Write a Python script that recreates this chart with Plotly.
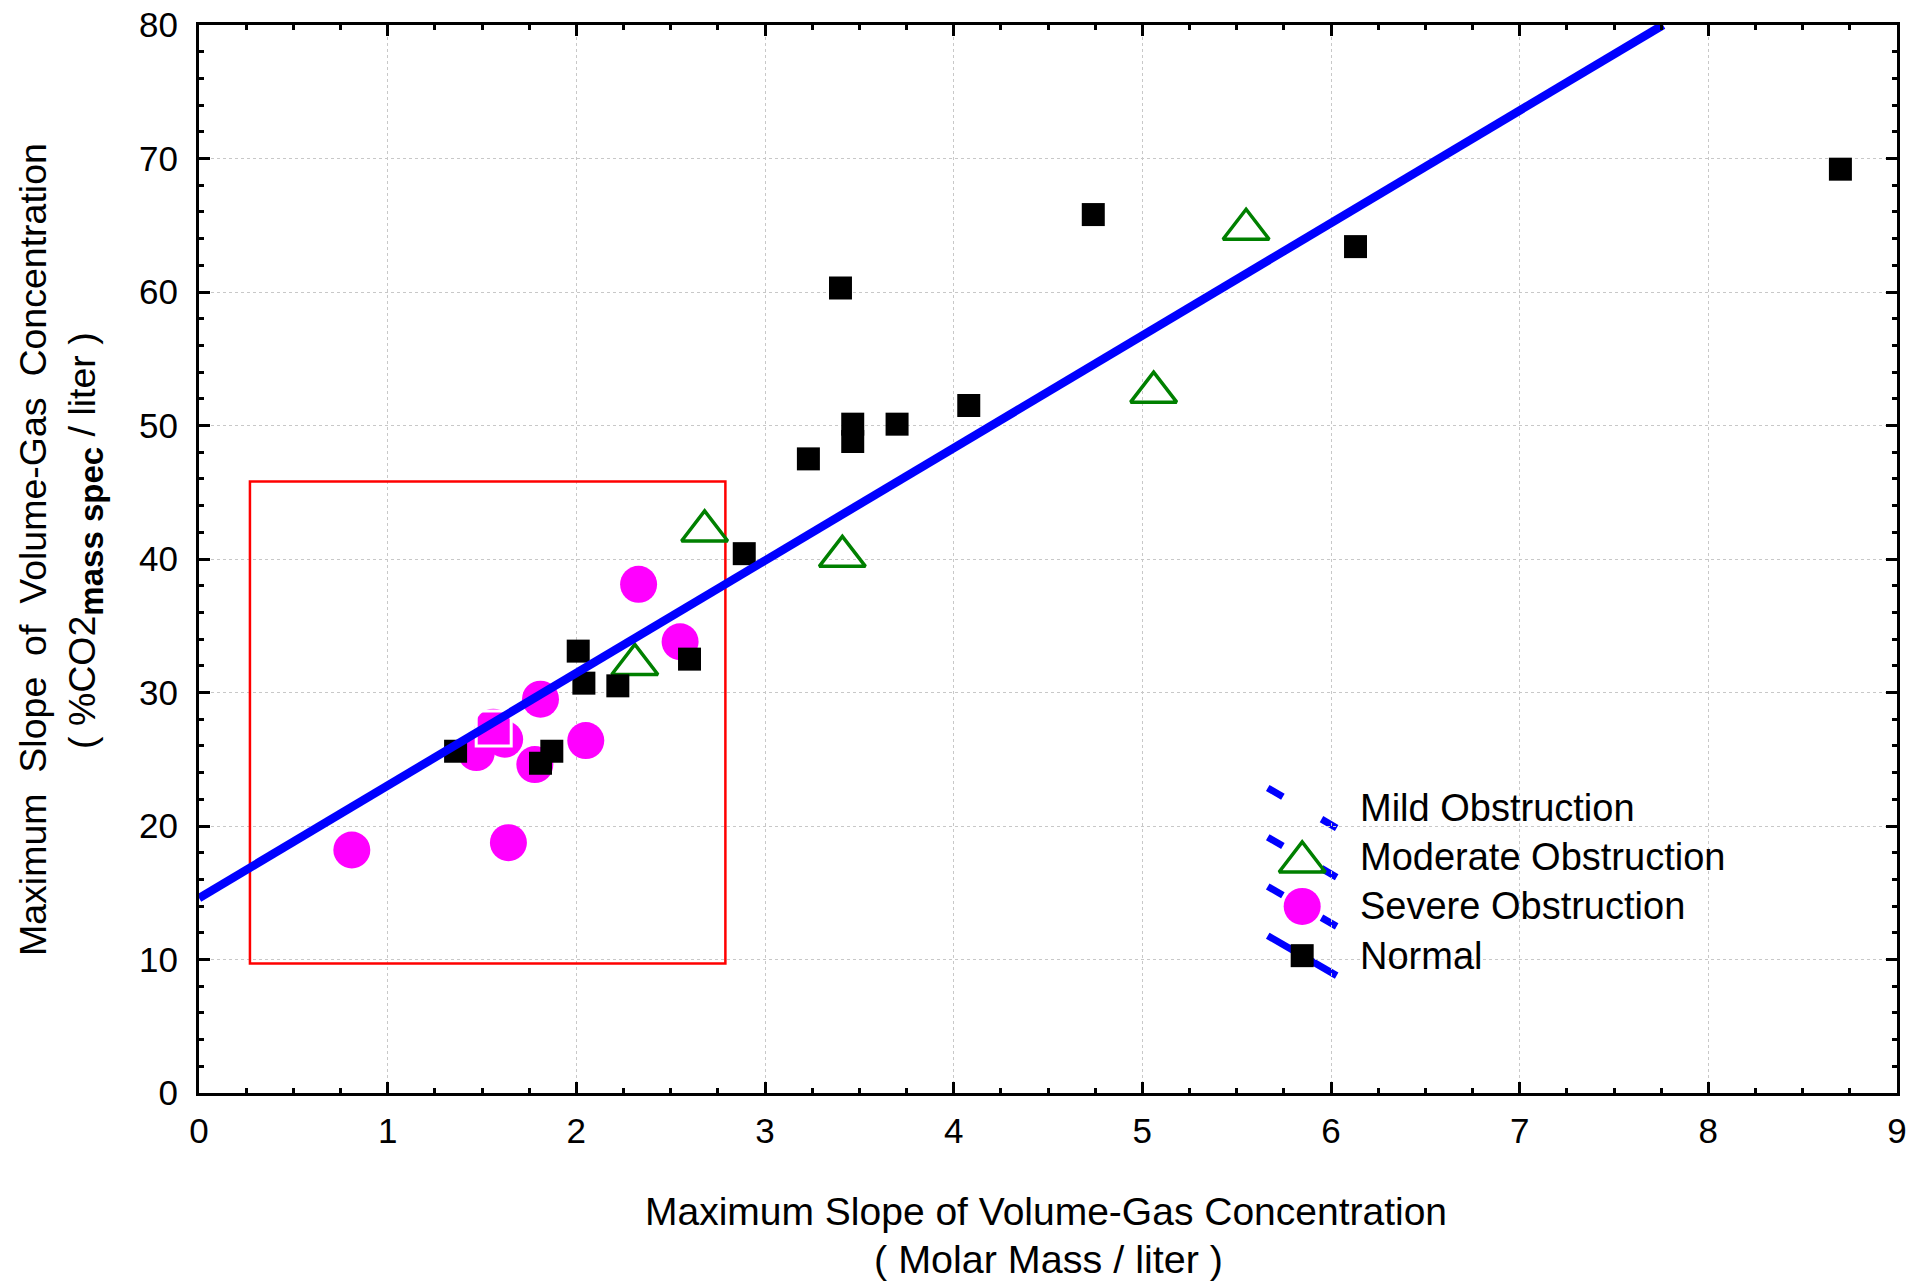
import plotly.graph_objects as go

# ---- data -------------------------------------------------------------
normal_x = [1.36, 1.81, 1.87, 2.01, 2.04, 2.22, 2.60, 2.89, 3.23, 3.40,
            3.465, 3.465, 3.70, 4.08, 4.74, 6.13, 8.70]
normal_y = [25.6, 24.7, 25.6, 33.1, 30.7, 30.5, 32.5, 40.4, 47.5, 60.3,
            48.8, 50.1, 50.1, 51.5, 65.8, 63.4, 69.2]

severe_x = [0.81, 1.47, 1.56, 1.62, 1.64, 1.78, 1.81, 2.05, 2.33, 2.55]
severe_y = [18.2, 25.5, 27.4, 26.5, 18.75, 24.6, 29.5, 26.4, 38.1, 33.8]

moderate_x = [2.31, 2.68, 3.41, 5.06, 5.55]
moderate_y = [32.1, 42.1, 40.2, 52.5, 64.7]

mild_x = [1.562]
mild_y = [27.3]

# fitted regression line (end points)
fit_x = [0.0, 7.76]
fit_y = [14.6, 80.0]

# highlighted region
box_x = [0.27, 2.79]
box_y = [9.7, 45.8]

x_ticks = [0, 1, 2, 3, 4, 5, 6, 7, 8, 9]
y_ticks = [0, 10, 20, 30, 40, 50, 60, 70, 80]

legend_labels = ["Mild Obstruction", "Moderate Obstruction",
                 "Severe Obstruction", "Normal"]

FONT = "Liberation Sans, Arial, sans-serif"
BLUE = "#0000FF"
GREEN = "#008000"
MAGENTA = "#FF00FF"

fig = go.Figure()

fig.add_trace(go.Scatter(
    x=moderate_x, y=moderate_y, mode="markers", name="Moderate Obstruction",
    marker=dict(symbol="triangle-up-open", size=40, color=GREEN,
                line=dict(width=3.5, color=GREEN)),
    showlegend=False))

fig.add_trace(go.Scatter(
    x=severe_x, y=severe_y, mode="markers", name="Severe Obstruction",
    marker=dict(symbol="circle", size=37, color=MAGENTA, line=dict(width=0)),
    showlegend=False))

fig.add_trace(go.Scatter(
    x=mild_x, y=mild_y, mode="markers", name="Mild Obstruction",
    marker=dict(symbol="square-open", size=35, color="white",
                line=dict(width=3, color="white")),
    showlegend=False))

fig.add_trace(go.Scatter(
    x=normal_x, y=normal_y, mode="markers", name="Normal",
    marker=dict(symbol="square", size=23, color="black", line=dict(width=0)),
    showlegend=False))

fig.add_trace(go.Scatter(
    x=fit_x, y=fit_y, mode="lines", name="fit",
    line=dict(color=BLUE, width=8.5), showlegend=False))

# red outline around the low-value cluster
fig.add_shape(type="rect", xref="x", yref="y",
              x0=box_x[0], x1=box_x[1], y0=box_y[0], y1=box_y[1],
              line=dict(color="#FF0000", width=2.5), layer="between")

# ---- custom legend (diagonal line swatch + marker + label) ---------------
leg_line_x0, leg_line_x1 = 0.6294, 0.6700
leg_mark_x = 0.6497
leg_text_x = 0.6824
leg_row0 = 0.2669
leg_step = 0.0461
leg_dy = 0.0187
leg_symbols = [None, "triangle-up-open", "circle", "square"]
leg_colors = [None, GREEN, MAGENTA, "black"]
leg_sizes = [None, 40, 37, 23]
leg_broken = [True, True, True, False]

for i, label in enumerate(legend_labels):
    yc = leg_row0 - i * leg_step
    xa, xb = leg_line_x0, leg_line_x1
    ya, yb = yc + leg_dy, yc - leg_dy
    if leg_broken[i]:
        pieces = [(0.0, 0.22), (0.78, 1.0)]
    else:
        pieces = [(0.0, 1.0)]
    for t0, t1 in pieces:
        fig.add_shape(type="line", xref="paper", yref="paper",
                      x0=xa + (xb - xa) * t0, y0=ya + (yb - ya) * t0,
                      x1=xa + (xb - xa) * t1, y1=ya + (yb - ya) * t1,
                      line=dict(color=BLUE, width=7), layer="between")
    if leg_symbols[i] is not None:
        ym = yc - (0.0045 if leg_symbols[i].startswith("triangle") else 0.0)
        fig.add_trace(go.Scatter(
            x=[leg_mark_x], y=[ym], xaxis="x2", yaxis="y2", mode="markers",
            marker=dict(symbol=leg_symbols[i], size=leg_sizes[i],
                        color=leg_colors[i],
                        line=dict(width=3.5 if "open" in leg_symbols[i] else 0,
                                  color=leg_colors[i])),
            showlegend=False, hoverinfo="skip"))
    fig.add_annotation(x=leg_text_x, y=yc, xref="paper", yref="paper",
                       text=label, showarrow=False, xanchor="left",
                       yanchor="middle",
                       font=dict(family=FONT, size=38, color="black"))

# ---- axis titles ---------------------------------------------------------
fig.add_annotation(x=0.499, y=0, xref="paper", yref="paper", yshift=-118,
                   text="Maximum Slope of Volume-Gas Concentration",
                   showarrow=False, xanchor="center", yanchor="middle",
                   font=dict(family=FONT, size=39, color="black"))
fig.add_annotation(x=0.5, y=0, xref="paper", yref="paper", yshift=-166,
                   text="( Molar Mass / liter )",
                   showarrow=False, xanchor="center", yanchor="middle",
                   font=dict(family=FONT, size=39.5, color="black"))
fig.add_annotation(x=0, y=0.5, xref="paper", yref="paper",
                   xshift=-166, yshift=9, textangle=-90,
                   text="Maximum\u00a0 Slope\u00a0 of\u00a0 Volume-Gas\u00a0 Concentration",
                   showarrow=False, xanchor="center", yanchor="middle",
                   font=dict(family=FONT, size=37.5, color="black"))
fig.add_annotation(x=0, y=0.5, xref="paper", yref="paper",
                   xshift=-114, yshift=18, textangle=-90,
                   text=("( %CO2<sub><span style='font-size:33px'><b>mass spec"
                         "</b></span></sub> / liter )"),
                   showarrow=False, xanchor="center", yanchor="middle",
                   font=dict(family=FONT, size=37.5, color="black"))

axis_common = dict(
    ticks="inside", ticklen=11, tickwidth=2.5, tickcolor="black",
    showline=True, linecolor="black", linewidth=3, mirror="ticks",
    showgrid=True, gridcolor="#c8c8c8", gridwidth=1, griddash="3px,3px",
    zeroline=False, automargin=False,
    tickfont=dict(family=FONT, size=35, color="black"),
)

fig.update_layout(
    width=1909, height=1281,
    margin=dict(l=199, r=12, t=25, b=188),
    paper_bgcolor="white", plot_bgcolor="white",
    font=dict(family=FONT, color="black"),
    showlegend=False,
    xaxis=dict(range=[0, 9], tickmode="array", tickvals=x_ticks,
               ticktext=[str(v) for v in x_ticks], ticklabelstandoff=5,
               minor=dict(dtick=0.25, tick0=0, ticks="inside", ticklen=5,
                          tickwidth=2.5, tickcolor="black", showgrid=False),
               **axis_common),
    yaxis=dict(range=[0, 80], tickmode="array", tickvals=y_ticks,
               ticktext=[str(v) for v in y_ticks], ticklabelstandoff=11,
               minor=dict(dtick=2, tick0=0, ticks="inside", ticklen=5,
                          tickwidth=2.5, tickcolor="black", showgrid=False),
               **axis_common),
    xaxis2=dict(overlaying="x", anchor="y2", range=[0, 1], visible=False,
                fixedrange=True, automargin=False),
    yaxis2=dict(overlaying="y", anchor="x2", range=[0, 1], visible=False,
                fixedrange=True, automargin=False),
)

fig.write_html("out.html")
